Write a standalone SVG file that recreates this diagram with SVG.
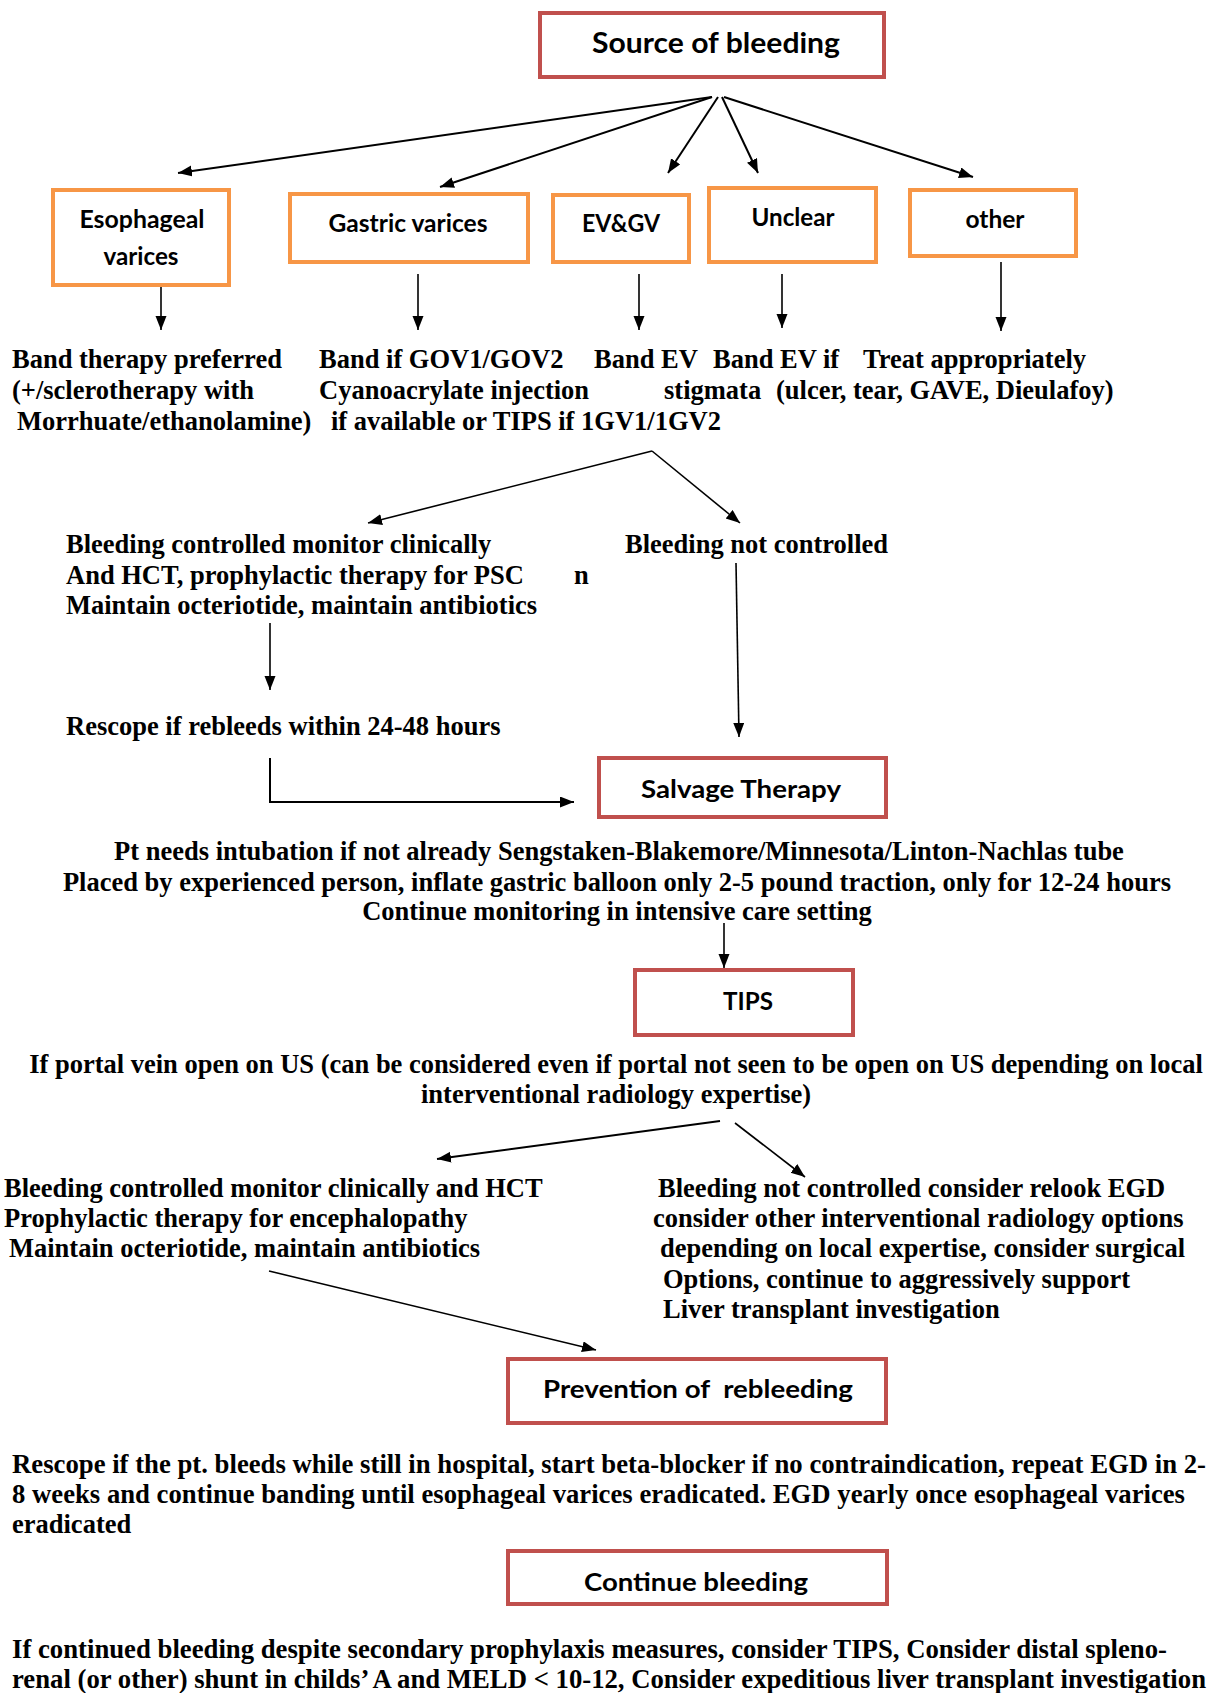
<svg xmlns="http://www.w3.org/2000/svg" width="1215" height="1693" viewBox="0 0 1215 1693">
  <style>
    .bg { fill: #ffffff; }
    .red { fill: #ffffff; stroke: #C0504D; stroke-width: 4; }
    .orange { fill: #ffffff; stroke: #F79646; stroke-width: 4; }
    .box-label { font-family: Lato, "Open Sans", sans-serif; font-weight: bold; font-size: 24px; fill: #000; }
    .box-title { font-family: Lato, "Open Sans", sans-serif; font-weight: bold; font-size: 28px; fill: #000; }
    .body { font-family: "Liberation Serif", "Times New Roman", serif; font-weight: bold; font-size: 26.5px; fill: #000; }
    .mid { text-anchor: middle; }
    .conn { fill: none; stroke: #000; stroke-width: 1.6; marker-end: url(#arrow); }
    .conn-bold { fill: none; stroke: #000; stroke-width: 2; marker-end: url(#arrow); }
  </style>
  <defs>
    <marker id="arrow" markerUnits="userSpaceOnUse" markerWidth="15" markerHeight="12" refX="14" refY="5.5" orient="auto">
      <path d="M0,0 L14,5.5 L0,11 Z" fill="#000"/>
    </marker>
    <clipPath id="clip-continue">
      <rect x="510" y="1553" width="375" height="42"/>
    </clipPath>
  </defs>

  <rect class="bg" x="0" y="0" width="1215" height="1693"/>

  <!-- connectors -->
  <g id="connectors">
    <!-- source to the five categories -->
    <line class="conn-bold" x1="712" y1="97" x2="178" y2="173"/>
    <line class="conn-bold" x1="712" y1="97" x2="440" y2="187"/>
    <line class="conn-bold" x1="718" y1="97" x2="668" y2="173"/>
    <line class="conn-bold" x1="722" y1="97" x2="758" y2="173"/>
    <line class="conn-bold" x1="724" y1="97" x2="973" y2="177"/>
    <!-- categories to treatments -->
    <line class="conn" x1="161" y1="287" x2="161" y2="330"/>
    <line class="conn" x1="418" y1="274" x2="418" y2="330"/>
    <line class="conn" x1="639" y1="274" x2="639" y2="330"/>
    <line class="conn" x1="782" y1="274" x2="782" y2="328"/>
    <line class="conn" x1="1001" y1="262" x2="1001" y2="331"/>
    <!-- split after initial therapy -->
    <line class="conn" x1="652" y1="451" x2="368" y2="523"/>
    <line class="conn" x1="652" y1="451" x2="740" y2="523"/>
    <!-- controlled branch -->
    <line class="conn" x1="270" y1="623" x2="270" y2="690"/>
    <polyline class="conn-bold" points="270,758 270,802 574,802"/>
    <!-- not controlled branch -->
    <line class="conn" x1="736" y1="563" x2="739" y2="737"/>
    <!-- salvage to TIPS -->
    <line class="conn" x1="724" y1="923" x2="724" y2="968"/>
    <!-- split after TIPS -->
    <line class="conn-bold" x1="720" y1="1121" x2="437" y2="1159"/>
    <line class="conn" x1="735" y1="1123" x2="805" y2="1177"/>
    <!-- controlled to prevention -->
    <line class="conn" x1="269" y1="1271" x2="596" y2="1350"/>
  </g>

  <!-- nodes -->
  <g id="source">
    <rect class="red" x="540" y="13" width="344" height="64"/>
    <text class="box-title mid" x="716" y="53" textLength="248" lengthAdjust="spacingAndGlyphs">Source of bleeding</text>
  </g>

  <g id="esophageal">
    <rect class="orange" x="53" y="190" width="176" height="95"/>
    <text class="box-label mid" x="142" y="228" textLength="125" lengthAdjust="spacingAndGlyphs">Esophageal</text>
    <text class="box-label mid" x="141" y="265" textLength="75" lengthAdjust="spacingAndGlyphs">varices</text>
  </g>

  <g id="gastric">
    <rect class="orange" x="290" y="194" width="238" height="68"/>
    <text class="box-label mid" x="408" y="232" textLength="159" lengthAdjust="spacingAndGlyphs">Gastric varices</text>
  </g>

  <g id="evgv">
    <rect class="orange" x="553" y="195" width="136" height="67"/>
    <text class="box-label mid" x="621" y="232" textLength="78" lengthAdjust="spacingAndGlyphs">EV&amp;GV</text>
  </g>

  <g id="unclear">
    <rect class="orange" x="709" y="188" width="167" height="74"/>
    <text class="box-label mid" x="793" y="226" textLength="83" lengthAdjust="spacingAndGlyphs">Unclear</text>
  </g>

  <g id="other">
    <rect class="orange" x="910" y="190" width="166" height="66"/>
    <text class="box-label mid" x="995" y="228" textLength="59" lengthAdjust="spacingAndGlyphs">other</text>
  </g>

  <g id="treatments">
    <text class="body" x="12" y="368">Band therapy preferred</text>
    <text class="body" x="12" y="399">(+/sclerotherapy with</text>
    <text class="body" x="17" y="430">Morrhuate/ethanolamine)</text>
    <text class="body" x="319" y="368">Band if GOV1/GOV2</text>
    <text class="body" x="319" y="399">Cyanoacrylate injection</text>
    <text class="body" x="331" y="430">if available or TIPS if 1GV1/1GV2</text>
    <text class="body" x="594" y="368">Band EV</text>
    <text class="body" x="713" y="368">Band EV if</text>
    <text class="body" x="664" y="399">stigmata</text>
    <text class="body" x="863" y="368">Treat appropriately</text>
    <text class="body" x="776" y="399">(ulcer, tear, GAVE, Dieulafoy)</text>
  </g>

  <g id="controlled">
    <text class="body" x="66" y="553">Bleeding controlled monitor clinically</text>
    <text class="body" x="66" y="584">And HCT, prophylactic therapy for PSC</text>
    <text class="body" x="574" y="584">n</text>
    <text class="body" x="66" y="614">Maintain octeriotide, maintain antibiotics</text>
  </g>

  <g id="not-controlled">
    <text class="body" x="625" y="553">Bleeding not controlled</text>
  </g>

  <g id="rescope">
    <text class="body" x="66" y="735">Rescope if rebleeds within 24-48 hours</text>
  </g>

  <g id="salvage">
    <rect class="red" x="599" y="758" width="287" height="59"/>
    <text class="box-label mid" x="741" y="798" textLength="200" lengthAdjust="spacingAndGlyphs">Salvage Therapy</text>
  </g>

  <g id="salvage-notes">
    <text class="body mid" x="619" y="860">Pt needs intubation if not already Sengstaken-Blakemore/Minnesota/Linton-Nachlas tube</text>
    <text class="body mid" x="617" y="891">Placed by experienced person, inflate gastric balloon only 2-5 pound traction, only for 12-24 hours</text>
    <text class="body mid" x="617" y="920">Continue monitoring in intensive care setting</text>
  </g>

  <g id="tips">
    <rect class="red" x="635" y="970" width="218" height="65"/>
    <text class="box-label mid" x="748" y="1010" textLength="50" lengthAdjust="spacingAndGlyphs">TIPS</text>
  </g>

  <g id="tips-notes">
    <text class="body mid" x="616" y="1073">If portal vein open on US (can be considered even if portal not seen to be open on US depending on local</text>
    <text class="body mid" x="616" y="1103">interventional radiology expertise)</text>
  </g>

  <g id="tips-controlled">
    <text class="body" x="4" y="1197">Bleeding controlled monitor clinically and HCT</text>
    <text class="body" x="4" y="1227">Prophylactic therapy for encephalopathy</text>
    <text class="body" x="9" y="1257">Maintain octeriotide, maintain antibiotics</text>
  </g>

  <g id="tips-not-controlled">
    <text class="body" x="658" y="1197">Bleeding not controlled consider relook EGD</text>
    <text class="body" x="653" y="1227">consider other interventional radiology options</text>
    <text class="body" x="660" y="1257">depending on local expertise, consider surgical</text>
    <text class="body" x="663" y="1288">Options, continue to aggressively support</text>
    <text class="body" x="663" y="1318">Liver transplant investigation</text>
  </g>

  <g id="prevention">
    <rect class="red" x="508" y="1359" width="378" height="64"/>
    <text class="box-label mid" x="698" y="1398" textLength="310" lengthAdjust="spacingAndGlyphs" xml:space="preserve">Prevention of  rebleeding</text>
  </g>

  <g id="prevention-notes">
    <text class="body" x="12" y="1473" textLength="1194" lengthAdjust="spacingAndGlyphs">Rescope if the pt. bleeds while still in hospital, start beta-blocker if no contraindication, repeat EGD in 2-</text>
    <text class="body" x="12" y="1503" textLength="1173" lengthAdjust="spacingAndGlyphs">8 weeks and continue banding until esophageal varices eradicated. EGD yearly once esophageal varices</text>
    <text class="body" x="12" y="1533">eradicated</text>
  </g>

  <g id="continue">
    <rect class="red" x="508" y="1551" width="379" height="53"/>
    <text class="box-label mid" x="696" y="1591" textLength="224" lengthAdjust="spacingAndGlyphs" clip-path="url(#clip-continue)">Continue bleeding</text>
  </g>

  <g id="continue-notes">
    <text class="body" x="12" y="1658" textLength="1155" lengthAdjust="spacingAndGlyphs">If continued bleeding despite secondary prophylaxis measures, consider TIPS, Consider distal spleno-</text>
    <text class="body" x="12" y="1688" textLength="1194" lengthAdjust="spacingAndGlyphs">renal (or other) shunt in childs’ A and MELD &lt; 10-12, Consider expeditious liver transplant investigation</text>
  </g>
</svg>
